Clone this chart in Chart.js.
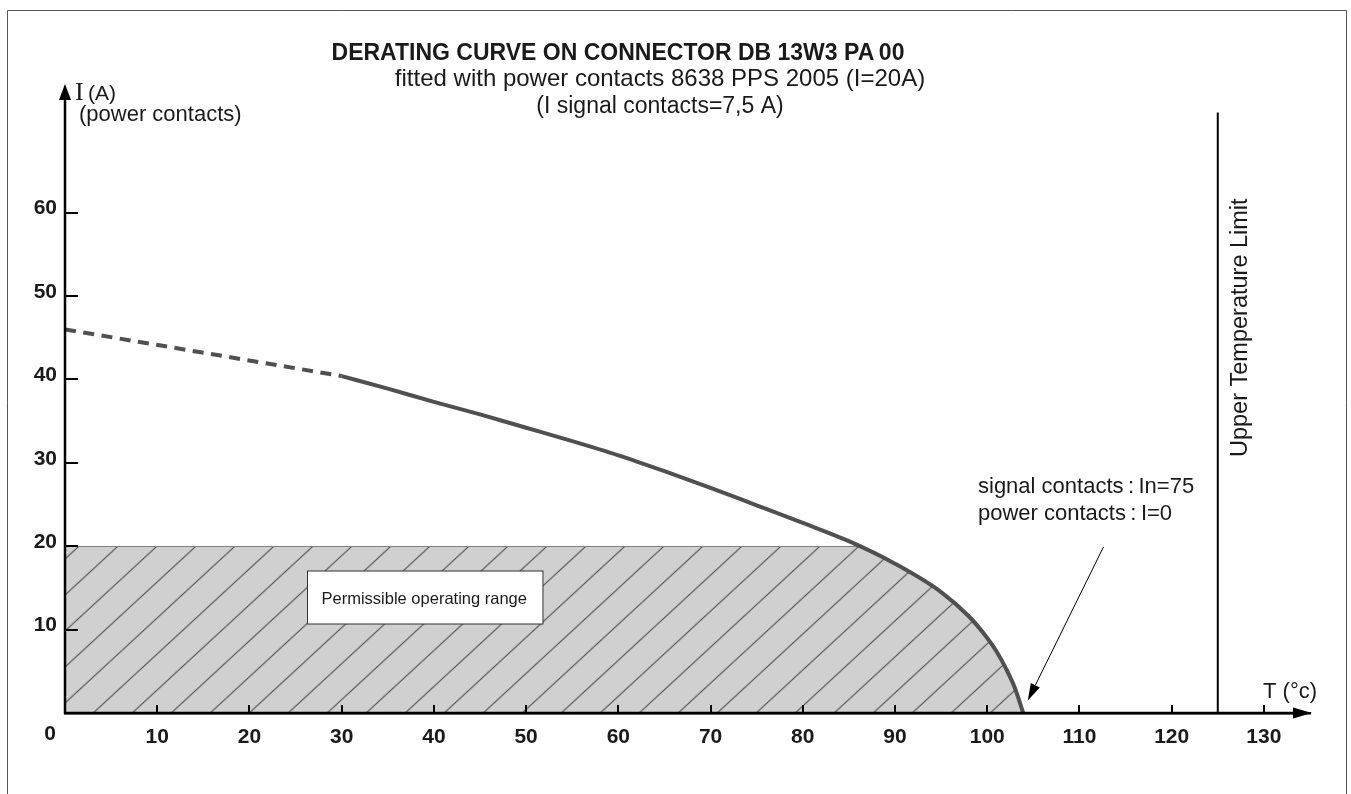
<!DOCTYPE html>
<html>
<head>
<meta charset="utf-8">
<script src="https://cdn.jsdelivr.net/npm/chart.js@4.4.1/dist/chart.umd.min.js"></script>
<style>
html,body{margin:0;padding:0;background:#fff;}
canvas{display:block;}
</style>
</head>
<body>
<canvas id="c" width="1351" height="794"></canvas>
<script>
// ---------- DATA ----------
const titleText = 'DERATING CURVE ON CONNECTOR DB 13W3 PA\u200900';
const subtitleLines = ['fitted with power contacts 8638 PPS 2005 (I=20A)', '(I signal contacts=7,5 A)'];
const yAxisLabel = ['I', '(A)', '(power contacts)'];
const xAxisLabel = 'T (\u00B0c)';
const rangeLabel = 'Permissible operating range';
const limitLabel = 'Upper Temperature Limit';
const noteLines = ['signal contacts\u2009:\u2009In=75', 'power contacts\u2009:\u2009I=0'];

// dashed (extrapolated) part of the derating curve
const extrapTemp = [0, 30];
const extrapCurrent = [46.0, 40.4];
// solid derating curve
const curveTemp = [30, 35, 40, 45, 50, 55, 60, 65, 70, 75, 80, 85, 90, 95, 98, 100, 101, 102, 103, 103.9];
const curveCurrent = [40.4, 38.9, 37.3, 35.8, 34.2, 32.6, 30.9, 29.0, 27.0, 24.9, 22.8, 20.6, 17.9, 14.5, 11.6, 9.0, 7.4, 5.4, 3.0, 0];
// permissible operating range: area under the curve, capped at this current
const rangeCap = 20;
const rangeCapEndTemp = 86.2;
// upper temperature limit
const limitTemp = [125, 125];
const limitCurrent = [0, 72];
// annotation arrow (tail -> tip) in data units
const arrowTemp = [112.6, 104.4];
const arrowCurrent = [19.9, 1.5];
// ticks
const xTickValues = [10, 20, 30, 40, 50, 60, 70, 80, 90, 100, 110, 120, 130];
const yTickValues = [10, 20, 30, 40, 50, 60];
const originLabel = '0';

// ---------- helpers ----------
const SANS = '"Liberation Sans", Arial, Helvetica, sans-serif';
const SERIF = '"Liberation Serif", "Times New Roman", serif';
const TXT = '#1a1a1a';
const pts = (xs, ys) => xs.map((x, i) => ({x, y: ys[i]}));

function makeHatch() {
  const W = 39, H = 36;
  const c = document.createElement('canvas');
  c.width = W; c.height = H;
  const g = c.getContext('2d');
  g.fillStyle = '#d0d0d0';
  g.fillRect(0, 0, W, H);
  g.strokeStyle = '#111';
  g.lineWidth = 1;
  for (const off of [-W, 0, W]) {
    g.beginPath();
    g.moveTo(off - W, 2 * H);
    g.lineTo(off + 2 * W, -H);
    g.stroke();
  }
  const p = document.getElementById('c').getContext('2d').createPattern(c, 'repeat');
  p.setTransform(new DOMMatrix().translate(78.3 - W, 546.7));
  return p;
}

function text(ctx, s, x, y, font, align) {
  ctx.save();
  ctx.font = font;
  ctx.fillStyle = TXT;
  ctx.textAlign = align || 'left';
  ctx.textBaseline = 'alphabetic';
  ctx.fillText(s, x, y);
  ctx.restore();
}

const deco = {
  id: 'deco',
  beforeDraw(chart) {
    const ctx = chart.ctx;
    ctx.save();
    ctx.fillStyle = '#fff';
    ctx.fillRect(0, 0, chart.width, chart.height);
    ctx.restore();
  },
  afterDatasetDraw(chart, args) {
    if (args.index !== 0) return;
    // cap the hatched area at the rated current
    const ctx = chart.ctx;
    const xs = chart.scales.x, ys = chart.scales.y;
    const area = chart.chartArea;
    const yc = ys.getPixelForValue(rangeCap);
    ctx.save();
    ctx.fillStyle = '#fff';
    ctx.fillRect(area.left, area.top - 2, area.right - area.left, yc - area.top + 2);
    ctx.strokeStyle = '#808080';
    ctx.lineWidth = 1;
    ctx.beginPath();
    ctx.moveTo(xs.getPixelForValue(0), Math.round(yc) + 0.5);
    ctx.lineTo(xs.getPixelForValue(rangeCapEndTemp), Math.round(yc) + 0.5);
    ctx.stroke();
    ctx.restore();
  },
  afterDatasetsDraw(chart) {
    const ctx = chart.ctx;
    const xs = chart.scales.x, ys = chart.scales.y;
    const x0 = xs.getPixelForValue(0), y0 = ys.getPixelForValue(0);
    const area = chart.chartArea;
    ctx.save();
    // axes
    ctx.strokeStyle = '#000';
    ctx.lineWidth = 2.5;
    ctx.beginPath();
    ctx.moveTo(x0, y0 + 1);
    ctx.lineTo(x0, area.top + 10);
    ctx.moveTo(x0 - 1, y0);
    ctx.lineTo(area.right - 10, y0);
    ctx.stroke();
    ctx.fillStyle = '#000';
    // y arrow
    ctx.beginPath();
    ctx.moveTo(x0, area.top - 3.5);
    ctx.lineTo(x0 - 6, area.top + 12.5);
    ctx.lineTo(x0 + 6, area.top + 12.5);
    ctx.closePath();
    ctx.fill();
    // x arrow
    ctx.beginPath();
    ctx.moveTo(area.right + 2, y0);
    ctx.lineTo(area.right - 17, y0 - 5.5);
    ctx.lineTo(area.right - 17, y0 + 5.5);
    ctx.closePath();
    ctx.fill();
    // tick marks (inside)
    ctx.lineWidth = 2;
    ctx.beginPath();
    for (const v of xTickValues) {
      const px = Math.round(xs.getPixelForValue(v));
      ctx.moveTo(px, y0);
      ctx.lineTo(px, y0 - 8);
    }
    for (const v of yTickValues) {
      const py = Math.round(ys.getPixelForValue(v));
      ctx.moveTo(x0, py);
      ctx.lineTo(x0 + 13, py);
    }
    ctx.stroke();

    // permissible range box
    const bf = '16.5px ' + SANS;
    ctx.font = bf;
    const tw = ctx.measureText(rangeLabel).width;
    const bx = 307.5, by = 571, bw = tw + 30, bh = 53;
    ctx.fillStyle = '#fff';
    ctx.fillRect(bx, by, bw, bh);
    ctx.strokeStyle = '#333';
    ctx.lineWidth = 1;
    ctx.strokeRect(bx, by, bw, bh);
    text(ctx, rangeLabel, bx + 14, 603.5, bf);

    // annotation arrow
    const tx = xs.getPixelForValue(arrowTemp[0]), ty = ys.getPixelForValue(arrowCurrent[0]);
    const hx = xs.getPixelForValue(arrowTemp[1]), hy = ys.getPixelForValue(arrowCurrent[1]);
    const ang = Math.atan2(hy - ty, hx - tx);
    const L = 17, hw = 5;
    const bxp = hx - L * Math.cos(ang), byp = hy - L * Math.sin(ang);
    ctx.strokeStyle = '#000';
    ctx.lineWidth = 1;
    ctx.beginPath();
    ctx.moveTo(tx, ty);
    ctx.lineTo(bxp, byp);
    ctx.stroke();
    ctx.fillStyle = '#000';
    ctx.beginPath();
    ctx.moveTo(hx, hy);
    ctx.lineTo(bxp + hw * Math.sin(ang), byp - hw * Math.cos(ang));
    ctx.lineTo(bxp - hw * Math.sin(ang), byp + hw * Math.cos(ang));
    ctx.closePath();
    ctx.fill();
    ctx.restore();
  },
  afterDraw(chart) {
    const ctx = chart.ctx;
    ctx.save();
    // outer frame
    ctx.strokeStyle = '#555';
    ctx.lineWidth = 1;
    ctx.beginPath();
    ctx.moveTo(7.5, 800);
    ctx.lineTo(7.5, 10.5);
    ctx.lineTo(1346.5, 10.5);
    ctx.lineTo(1346.5, 800);
    ctx.stroke();
    ctx.restore();

    // titles
    text(ctx, titleText, 618, 60, 'bold 23px ' + SANS, 'center');
    text(ctx, subtitleLines[0], 660, 86, '24px ' + SANS, 'center');
    text(ctx, subtitleLines[1], 660, 113, '23px ' + SANS, 'center');

    // y axis label
    text(ctx, yAxisLabel[0], 75, 100, '26px ' + SERIF);
    text(ctx, yAxisLabel[1], 88, 100, '21px ' + SANS);
    text(ctx, yAxisLabel[2], 79, 121, '22px ' + SANS);

    // x axis label
    text(ctx, xAxisLabel, 1263, 698, '22px ' + SANS);

    // origin
    text(ctx, originLabel, 50, 740, 'bold 21px ' + SANS, 'center');

    // notes
    text(ctx, noteLines[0], 978, 493, '22px ' + SANS);
    text(ctx, noteLines[1], 978, 520, '22px ' + SANS);

    // upper temperature limit label
    ctx.save();
    ctx.translate(1247, 457);
    ctx.rotate(-Math.PI / 2);
    text(ctx, limitLabel, 0, 0, '23.5px ' + SANS);
    ctx.restore();
  }
};

const hatch = makeHatch();

new Chart(document.getElementById('c'), {
  type: 'line',
  data: {
    datasets: [
      {
        label: 'range',
        data: pts(extrapTemp.slice(0, 1).concat(curveTemp), extrapCurrent.slice(0, 1).concat(curveCurrent)),
        borderWidth: 0,
        borderColor: 'rgba(0,0,0,0)',
        backgroundColor: hatch,
        fill: 'origin',
        pointRadius: 0,
        cubicInterpolationMode: 'monotone',
        order: 3
      },
      {
        label: 'extrapolated',
        data: pts(extrapTemp, extrapCurrent),
        borderColor: '#505050',
        borderWidth: 4,
        borderDash: [11, 7.5],
        borderCapStyle: 'butt',
        fill: false,
        pointRadius: 0,
        order: 2
      },
      {
        label: 'derating',
        data: pts(curveTemp, curveCurrent),
        borderColor: '#505050',
        borderWidth: 4,
        fill: false,
        pointRadius: 0,
        cubicInterpolationMode: 'monotone',
        order: 1
      },
      {
        label: 'limit',
        data: pts(limitTemp, limitCurrent),
        borderColor: '#000',
        borderWidth: 2,
        fill: false,
        pointRadius: 0,
        order: 0
      }
    ]
  },
  options: {
    responsive: false,
    animation: false,
    events: [],
    layout: { padding: { left: 0, top: 87.5, right: 41, bottom: 0 } },
    plugins: {
      legend: { display: false },
      title: { display: false },
      tooltip: { enabled: false }
    },
    scales: {
      x: {
        type: 'linear',
        min: 0, max: 135,
        afterFit: s => { s.height = 81; },
        afterBuildTicks: s => { s.ticks = xTickValues.map(v => ({value: v})); },
        grid: { display: false, drawTicks: false },
        border: { display: true, color: '#000', width: 2.5 },
        ticks: {
          autoSkip: false,
          maxRotation: 0,
          padding: 12,
          color: TXT,
          font: { family: SANS, size: 21, weight: 'bold' },
          callback: v => String(v)
        }
      },
      y: {
        type: 'linear',
        min: 0, max: 75,
        afterFit: s => { s.width = 65; },
        afterBuildTicks: s => { s.ticks = yTickValues.map(v => ({value: v})); },
        grid: { display: false, drawTicks: false },
        border: { display: true, color: '#000', width: 2.5 },
        ticks: {
          padding: 8,
          labelOffset: -4,
          color: TXT,
          font: { family: SANS, size: 21, weight: 'bold' },
          callback: v => String(v)
        }
      }
    }
  },
  plugins: [deco]
});
</script>
</body>
</html>
